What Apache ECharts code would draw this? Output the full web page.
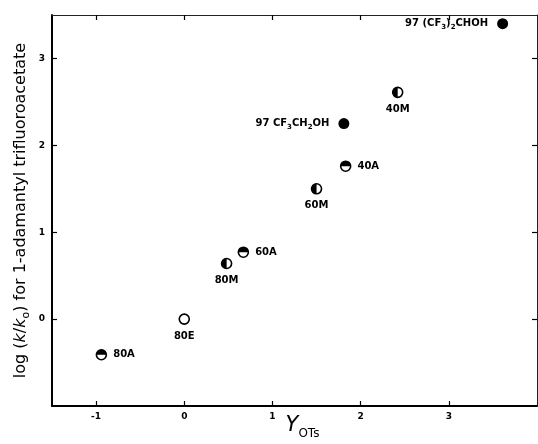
<!DOCTYPE html>
<html>
<head>
<meta charset="utf-8">
<script src="https://cdn.jsdelivr.net/npm/echarts@6/dist/echarts.min.js"></script>
<style>html,body{margin:0;padding:0;background:#fff}#chart{width:538px;height:444px}</style>
</head>
<body>
<div id="chart"></div>
<script>
// ---- data ----
const pointNames = ['80A', '80E', '80M', '60A', '60M', '40A', '97 CF{s|3}CH{s|2}OH', '40M', '97 (CF{s|3}){s|2}CHOH'];
const yOTs       = [-0.94, 0.00, 0.48, 0.67, 1.50, 1.83, 1.81, 2.42, 3.61];
const logKk0     = [-0.41, 0.00, 0.64, 0.77, 1.50, 1.76, 2.25, 2.61, 3.40];
const solventKind = ['A', 'E', 'M', 'A', 'M', 'A', 'F', 'M', 'F']; // A acetone (top half), M methanol (left half), E open, F fluorinated (filled)
const xTickValues = [-1, 0, 1, 2, 3];
const yTickValues = [0, 1, 2, 3];
const xTickLabels = ['-1', '0', '1', '2', '3'];
const yTickLabels = ['0', '1', '2', '3'];

// ---- styling ----
const labelSide = { A: 'right', E: 'bottom', M: 'bottom', F: 'left' };
const FONT = 'DejaVu Sans';
const labelRich = {
  s: { fontSize: 7, fontFamily: FONT, fontWeight: 'bold', color: '#000', verticalAlign: 'bottom', padding: [0, 0, -2, 0] }
};

const baseData = yOTs.map((x, i) => {
  const k = solventKind[i];
  const filled = k === 'F';
  return {
    value: [x, logKk0[i]],
    symbolSize: filled ? 11 : 10,
    itemStyle: filled ? { color: '#000', borderWidth: 0, opacity: 1 } : { color: '#fff', borderColor: '#000', borderWidth: 1.6, opacity: 1 },
    label: {
      show: true,
      position: labelSide[k],
      distance: k === 'F' ? 9 : 6,
      formatter: pointNames[i]
    }
  };
});
const halfTop = yOTs.map((x, i) => solventKind[i] === 'A' ? [x, logKk0[i]] : null).filter(Boolean);
const halfLeft = yOTs.map((x, i) => solventKind[i] === 'M' ? [x, logKk0[i]] : null).filter(Boolean);

const axisCommon = {
  type: 'value',
  splitLine: { show: false },
  nameMoveOverlap: false,
  axisTick: { show: true, inside: true, length: 5, lineStyle: { color: '#000', width: 1.2 } }
};

const chart = echarts.init(document.getElementById('chart'), null, { renderer: 'canvas' });
chart.setOption({
  backgroundColor: '#fff',
  animation: false,
  grid: { left: 52, right: 1, top: 15, bottom: 38, containLabel: false, outerBoundsMode: 'none' },
  xAxis: [
    Object.assign({}, axisCommon, {
      position: 'bottom', min: -1.5, max: 4,
      axisLine: { show: true, onZero: false, lineStyle: { color: '#000', width: 2 } },
      axisTick: Object.assign({}, axisCommon.axisTick, { customValues: xTickValues }),
      axisLabel: {
        show: true, customValues: xTickValues, margin: 6,
        formatter: v => xTickLabels[xTickValues.indexOf(v)] ?? '',
        color: '#000', fontFamily: FONT, fontWeight: 'bold', fontSize: 9
      },
      name: '{y|Y}{s|OTs}', nameLocation: 'middle', nameGap: 9,
      nameTextStyle: {
        padding: [0, 0, 0, 16],
        rich: {
          y: { fontSize: 21, fontStyle: 'italic', fontFamily: FONT, color: '#000', verticalAlign: 'bottom' },
          s: { fontSize: 12, fontFamily: FONT, color: '#000', verticalAlign: 'bottom', padding: [0, 0, -4, 0] }
        }
      }
    }),
    Object.assign({}, axisCommon, {
      position: 'top', min: -1.5, max: 4,
      axisLine: { show: true, onZero: false, lineStyle: { color: '#222', width: 1 } },
      axisTick: Object.assign({}, axisCommon.axisTick, { customValues: xTickValues }),
      axisLabel: { show: false }
    })
  ],
  yAxis: [
    Object.assign({}, axisCommon, {
      position: 'left', min: -1, max: 3.5,
      axisLine: { show: true, onZero: false, lineStyle: { color: '#000', width: 2 } },
      axisTick: Object.assign({}, axisCommon.axisTick, { customValues: yTickValues }),
      axisLabel: {
        show: true, customValues: yTickValues, margin: 7,
        formatter: v => yTickLabels[yTickValues.indexOf(v)] ?? '',
        color: '#000', fontFamily: FONT, fontWeight: 'bold', fontSize: 9
      },
      name: 'log ({i|k}/{i|k}{s|o}) for 1-adamantyl trifluoroacetate',
      nameLocation: 'middle', nameGap: 23, nameRotate: 90,
      nameTextStyle: {
        fontFamily: FONT, fontSize: 16, color: '#000',
        rich: {
          i: { fontStyle: 'italic', fontFamily: FONT, fontSize: 16, color: '#000' },
          s: { fontFamily: FONT, fontSize: 11, color: '#000', verticalAlign: 'bottom', padding: [0, 0, -3, 0] }
        }
      }
    }),
    Object.assign({}, axisCommon, {
      position: 'right', min: -1, max: 3.5,
      axisLine: { show: true, onZero: false, lineStyle: { color: '#222', width: 1 } },
      axisTick: Object.assign({}, axisCommon.axisTick, { customValues: yTickValues }),
      axisLabel: { show: false }
    })
  ],
  series: [
    {
      type: 'scatter', name: 'points', xAxisIndex: 0, yAxisIndex: 0,
      symbol: 'circle', data: baseData, z: 2,
      label: { color: '#000', fontFamily: FONT, fontWeight: 'bold', fontSize: 10, rich: labelRich }
    },
    {
      type: 'scatter', name: 'acetone', xAxisIndex: 0, yAxisIndex: 0,
      symbol: 'path://M0,10 A10,10 0 0 1 20,10 Z', symbolSize: [10, 5], symbolOffset: [0, -2.5],
      itemStyle: { color: '#000', opacity: 1 }, data: halfTop, z: 3, silent: true
    },
    {
      type: 'scatter', name: 'methanol', xAxisIndex: 0, yAxisIndex: 0,
      symbol: 'path://M10,0 A10,10 0 0 0 10,20 Z', symbolSize: [5, 10], symbolOffset: [-2.5, 0],
      itemStyle: { color: '#000', opacity: 1 }, data: halfLeft, z: 3, silent: true
    }
  ]
});
</script>
</body>
</html>
